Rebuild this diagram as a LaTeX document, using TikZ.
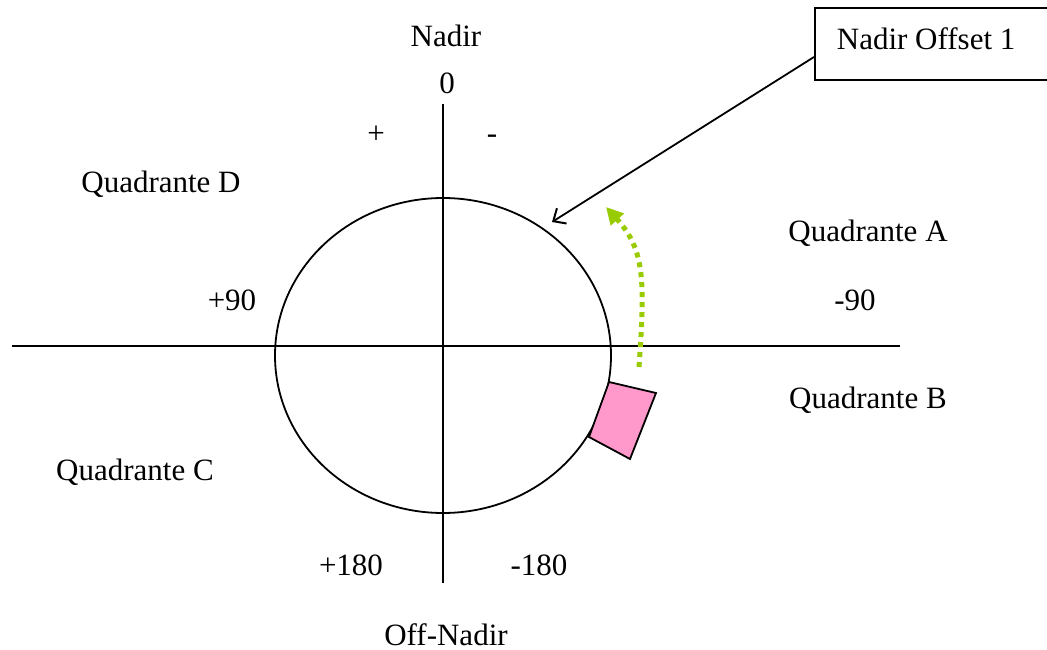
\documentclass[tikz,border=0pt]{standalone}
\usepackage{fontspec}
\setmainfont{Liberation Serif}
\usetikzlibrary{shapes.geometric,arrows.meta}
\definecolor{dotgreen}{HTML}{99CC00}
\definecolor{pinkfill}{HTML}{FF99CC}
\begin{document}
\begin{tikzpicture}[x=1pt,y=-1pt,
  lbl/.style={font=\fontsize{31}{37}\selectfont, inner sep=0pt, anchor=base},
  axis/.style={line width=1.8pt},
  outline/.style={line width=1.8pt}]
\useasboundingbox (0,0) rectangle (1047,650);
\clip (0,0) rectangle (1047,650);
% axes
\coordinate (vtop) at (443,104);
\coordinate (vbot) at (443,583);
\coordinate (hl) at (12,346);
\coordinate (hr) at (900,346);
\draw[axis] (vtop) -- (vbot);
\draw[axis] (hl) -- (hr);
% ellipse
\node[draw, outline, ellipse, minimum width=336pt, minimum height=315pt, inner sep=0pt] (orb) at (443,355.5) {};
% pink sensor
\draw[outline, fill=pinkfill] (609,382) -- (656,393) -- (630,459) -- (589,437) -- cycle;
% green dotted arrow
\coordinate (gstart) at (639,367);
\coordinate (gend) at (606,207);
\draw[dotgreen, line width=5pt, dash pattern=on 5pt off 5pt, -{Triangle[length=17pt,width=17pt]}]
  (gstart) .. controls (645,280) and (645,250) .. (gend);
% box
\node[draw, outline, anchor=west, minimum height=72pt, inner xsep=22pt, inner ysep=0pt,
  text height=21pt, text depth=9pt, font=\fontsize{31}{37}\selectfont] (box) at (814,44)
  {\makebox[226pt][l]{Nadir Offset 1}};
\coordinate (tip) at (552,222);
\draw[line width=1.8pt, -{Straight Barb[length=10pt,width=18pt,line width=2pt]}] ([yshift=-13pt]box.west) -- (tip);
% labels
\node[lbl] (nadir) at (446,47) {Nadir};
\node[lbl] (zero) at (447,94) {0};
\node[lbl] (plus) at (376,144) {+};
\node[lbl] (minus) at (492,143) {-};
\node[lbl] (qd) at (161,192) {Quadrante D};
\node[lbl] (qa) at (868,241) {Quadrante A};
\node[lbl] (p90) at (232,310) {+90};
\node[lbl] (m90) at (855,310) {-90};
\node[lbl] (qb) at (868,408) {Quadrante B};
\node[lbl] (qc) at (135,480) {Quadrante C};
\node[lbl] (p180) at (351,575) {+180};
\node[lbl] (m180) at (539,575) {-180};
\node[lbl] (off) at (446,645) {Off-Nadir};
\end{tikzpicture}
\end{document}
